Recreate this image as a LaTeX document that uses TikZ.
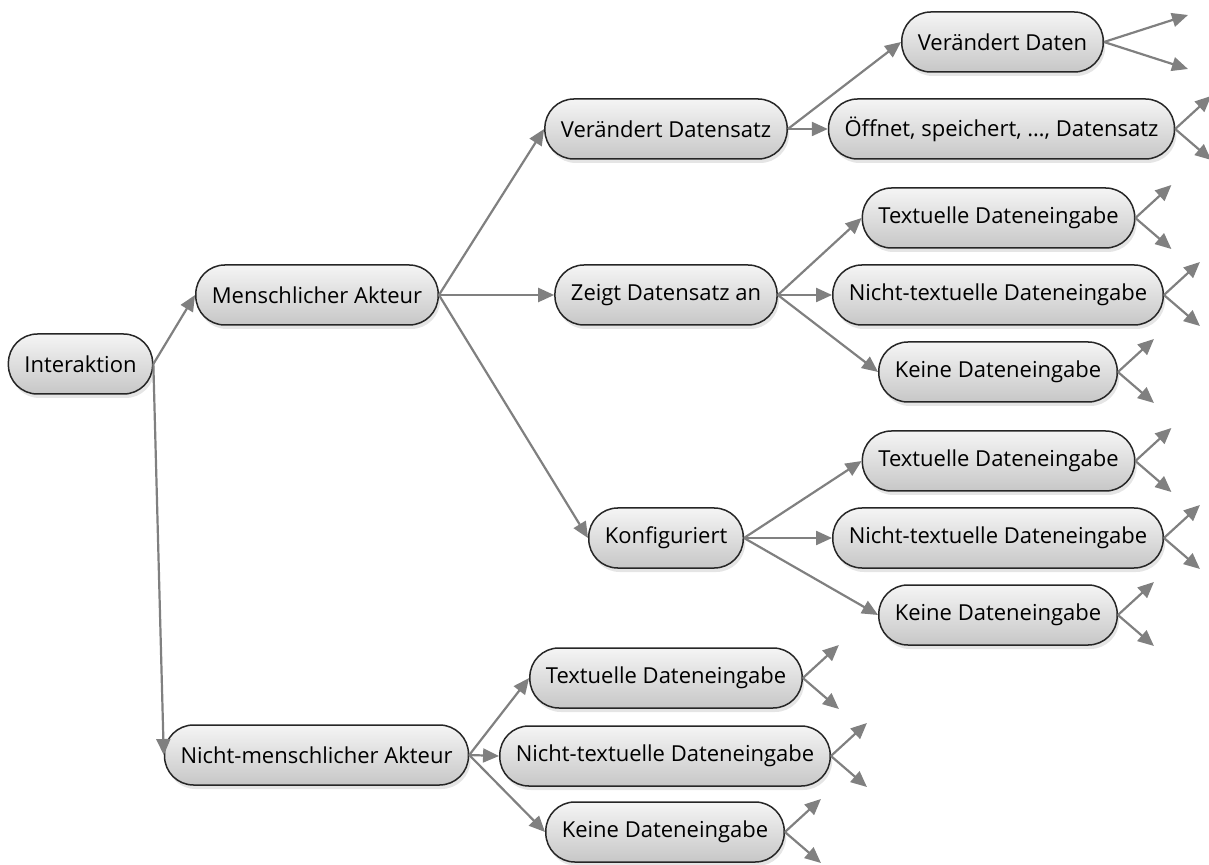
\documentclass[tikz,border=0pt]{standalone}
\usepackage{fontspec}
\setmainfont{Open Sans}
\usepackage{tikz}
\usetikzlibrary{arrows.meta,shadows}
\definecolor{linegray}{rgb}{0.5,0.5,0.5}
\definecolor{boxtop}{rgb}{0.96,0.96,0.96}
\definecolor{boxbottom}{rgb}{0.78,0.78,0.78}

\begin{document}
\begin{tikzpicture}[x=0.5pt,y=-0.5pt,
  box/.style={draw=black!85, line width=0.75pt, rectangle, rounded corners=14.5pt,
    minimum height=30pt, inner xsep=8pt, top color=boxtop, bottom color=boxbottom,
    drop shadow={shadow xshift=1pt, shadow yshift=-2pt, opacity=0.25, fill=black!40},
    font=\fontsize{11}{13}\selectfont},
  conn/.style={-{Triangle[length=8pt,width=7pt]}, line width=1.1pt, linegray}]
\useasboundingbox (0,0) rectangle (1209,865);
\node[box] (int) at (80.5,364) {Interaktion};
\node[box] (mensch) at (317,295) {Menschlicher Akteur};
\node[box] (nicht) at (316.5,755) {Nicht-menschlicher Akteur};
\node[box] (vds) at (666,129) {Verändert Datensatz};
\node[box] (zda) at (666,295) {Zeigt Datensatz an};
\node[box] (konf) at (666,538) {Konfiguriert};
\node[box] (vd) at (1002.5,42) {Verändert Daten};
\node[box] (oef) at (1001.5,129) {Öffnet, speichert, \dots, Datensatz};
\node[box] (zt) at (998.5,218) {Textuelle Dateneingabe};
\node[box] (zn) at (998,295) {Nicht-textuelle Dateneingabe};
\node[box] (zk) at (998,372) {Keine Dateneingabe};
\node[box] (kt) at (998.5,461) {Textuelle Dateneingabe};
\node[box] (kn) at (998,538) {Nicht-textuelle Dateneingabe};
\node[box] (kk) at (998,615) {Keine Dateneingabe};
\node[box] (nt) at (666,678) {Textuelle Dateneingabe};
\node[box] (nn) at (665,756) {Nicht-textuelle Dateneingabe};
\node[box] (nk) at (665,832) {Keine Dateneingabe};

\draw[conn] (int.east) -- (mensch.west);
\draw[conn] (int.east) -- (nicht.west);
\foreach \c in {vds,zda,konf} \draw[conn] (mensch.east) -- (\c.west);
\foreach \c in {vd,oef} \draw[conn] (vds.east) -- (\c.west);
\foreach \c in {zt,zn,zk} \draw[conn] (zda.east) -- (\c.west);
\foreach \c in {kt,kn,kk} \draw[conn] (konf.east) -- (\c.west);
\foreach \c in {nt,nn,nk} \draw[conn] (nicht.east) -- (\c.west);

\path (vd.east) ++(84,-27) coordinate (vd-up) ++(0,54) coordinate (vd-dn);
\draw[conn] (vd.east) -- (vd-up);
\draw[conn] (vd.east) -- (vd-dn);
\foreach \n in {oef,zt,zn,zk,kt,kn,kk,nt,nn,nk} {
  \path (\n.east) ++(36,-33) coordinate (\n-up) ++(0,64) coordinate (\n-dn);
  \draw[conn] (\n.east) -- (\n-up);
  \draw[conn] (\n.east) -- (\n-dn);
}
\end{tikzpicture}
\end{document}
